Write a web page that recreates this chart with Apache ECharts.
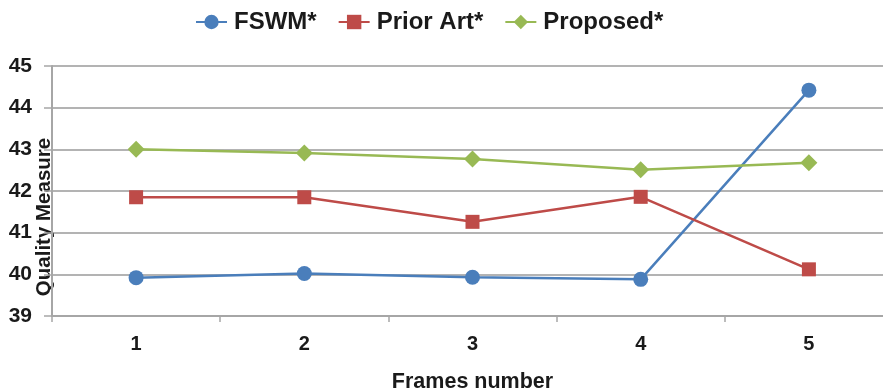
<!DOCTYPE html>
<html>
<head>
<meta charset="utf-8">
<script src="https://cdn.jsdelivr.net/npm/echarts@6/dist/echarts.min.js"></script>
<style>
  html, body { margin: 0; padding: 0; background: #fff; }
  #chart { width: 883px; height: 392px; }
</style>
</head>
<body>
<div id="chart"></div>
<script>
// Frame indices along the x axis
const frames = ['1', '2', '3', '4', '5'];

// Quality measure per frame for each method
const fswm = [39.92, 40.02, 39.93, 39.88, 44.42];
const priorArt = [41.85, 41.85, 41.26, 41.86, 40.12];
const proposed = [43.0, 42.91, 42.77, 42.51, 42.68];

const FONT = '"Liberation Sans", Arial, sans-serif';

const chart = echarts.init(document.getElementById('chart'));

function lineSeries(name, data, color, symbol, size) {
  return {
    name: name,
    type: 'line',
    data: data,
    symbol: symbol,
    symbolSize: size,
    showAllSymbol: true,
    lineStyle: { color: color, width: 2.5 },
    itemStyle: { color: color },
    emphasis: { disabled: true },
    animation: false
  };
}

chart.setOption({
  backgroundColor: '#ffffff',
  textStyle: { fontFamily: FONT },
  legend: {
    top: 5,
    left: 190,
    itemWidth: 31,
    itemHeight: 18,
    itemGap: 21,
    textStyle: { fontFamily: FONT, fontWeight: 'bold', fontSize: 24, color: '#1a1a1a', padding: [0, 0, 0, 2] },
    data: ['FSWM*', 'Prior Art*', 'Proposed*']
  },
  grid: { left: 52, right: -10, top: 66, bottom: 76, outerBoundsMode: 'none', containLabel: false },
  xAxis: {
    type: 'category',
    data: frames,
    boundaryGap: true,
    name: 'Frames number',
    nameLocation: 'middle',
    nameGap: 55,
    nameTextStyle: { fontFamily: FONT, fontWeight: 'bold', fontSize: 21.5, color: '#1a1a1a' },
    axisLine: { lineStyle: { color: '#a6a6a6', width: 2 } },
    axisTick: { show: true, length: 6, lineStyle: { color: '#a6a6a6', width: 1.5 } },
    axisLabel: { fontFamily: FONT, fontWeight: 'bold', fontSize: 20, color: '#1a1a1a', margin: 18 },
    splitLine: { show: false }
  },
  yAxis: {
    type: 'value',
    min: 39,
    max: 45,
    interval: 1,
    name: 'Quality Measure',
    nameLocation: 'middle',
    nameRotate: 90,
    nameGap: -3,
    nameMoveOverlap: false,
    nameTextStyle: { fontFamily: FONT, fontWeight: 'bold', fontSize: 20.5, color: '#1a1a1a', padding: [0, 52, 0, 0] },
    axisLine: { show: true, lineStyle: { color: '#a6a6a6', width: 2 } },
    axisTick: { show: true, length: 8, lineStyle: { color: '#a6a6a6', width: 1.5 } },
    axisLabel: { fontFamily: FONT, fontWeight: 'bold', fontSize: 21, color: '#1a1a1a', margin: 20 },
    splitLine: { lineStyle: { color: '#b3b3b3', width: 2 } }
  },
  series: [
    lineSeries('FSWM*', fswm, '#4a7ebb', 'circle', 15),
    lineSeries('Prior Art*', priorArt, '#be4b48', 'rect', 14),
    lineSeries('Proposed*', proposed, '#98b954', 'diamond', 17)
  ]
});
</script>
</body>
</html>
